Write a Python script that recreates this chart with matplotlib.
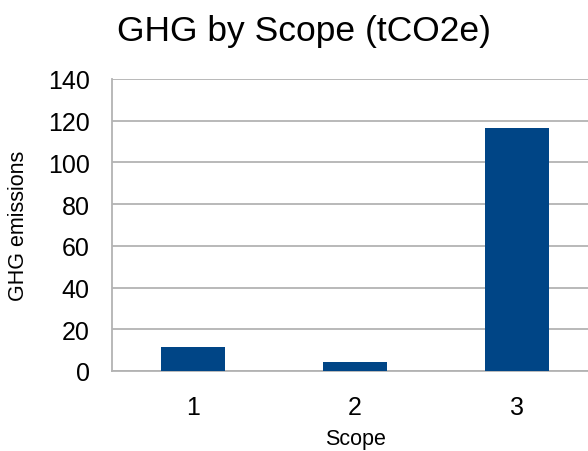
import numpy as np
import matplotlib
matplotlib.use('Agg')
import matplotlib.pyplot as plt

plt.rcParams['font.family'] = ['Liberation Sans', 'DejaVu Sans']

#data
scopes = ['1', '2', '3']
emissions = [11.4, 4.5, 116.5]

fig = plt.figure(figsize=(5.88, 4.52), dpi=100)
#axes run a little past the right edge, as in the original
ax = fig.add_axes([112/588, 1-372/452, (598-112)/588, (372-80)/452])

x = np.arange(1, len(scopes)+1)
ax.bar(x, emissions, width=0.4, color='#004586', zorder=3)

ax.set_xlim(0.5, 3.5)
ax.set_ylim(0, 140)
ax.set_yticks(np.arange(0, 141, 20))
ax.set_xticks(x)
ax.set_xticklabels(scopes)
ax.tick_params(axis='both', length=0, labelsize=18)
ax.tick_params(axis='y', pad=16)
ax.tick_params(axis='x', pad=17)
ax.yaxis.grid(True, color='#b3b3b3', linewidth=1.3, zorder=0)

for s in ['top', 'right']:
    ax.spines[s].set_visible(False)
for s in ['left', 'bottom']:
    ax.spines[s].set_color('#b3b3b3')
    ax.spines[s].set_linewidth(1.3)

ax.set_xlabel('Scope', fontsize=15.5, va='center')
ax.xaxis.set_label_coords((355-112)/486, (372-440)/292)
ax.set_ylabel('GHG emissions', fontsize=15.5, va='center')
ax.yaxis.set_label_coords((19-112)/486, 0.5)
fig.text(304/588, 1-32/452, 'GHG by Scope (tCO2e)', fontsize=25.5, ha='center', va='center')

plt.savefig('out.png', dpi=100)
